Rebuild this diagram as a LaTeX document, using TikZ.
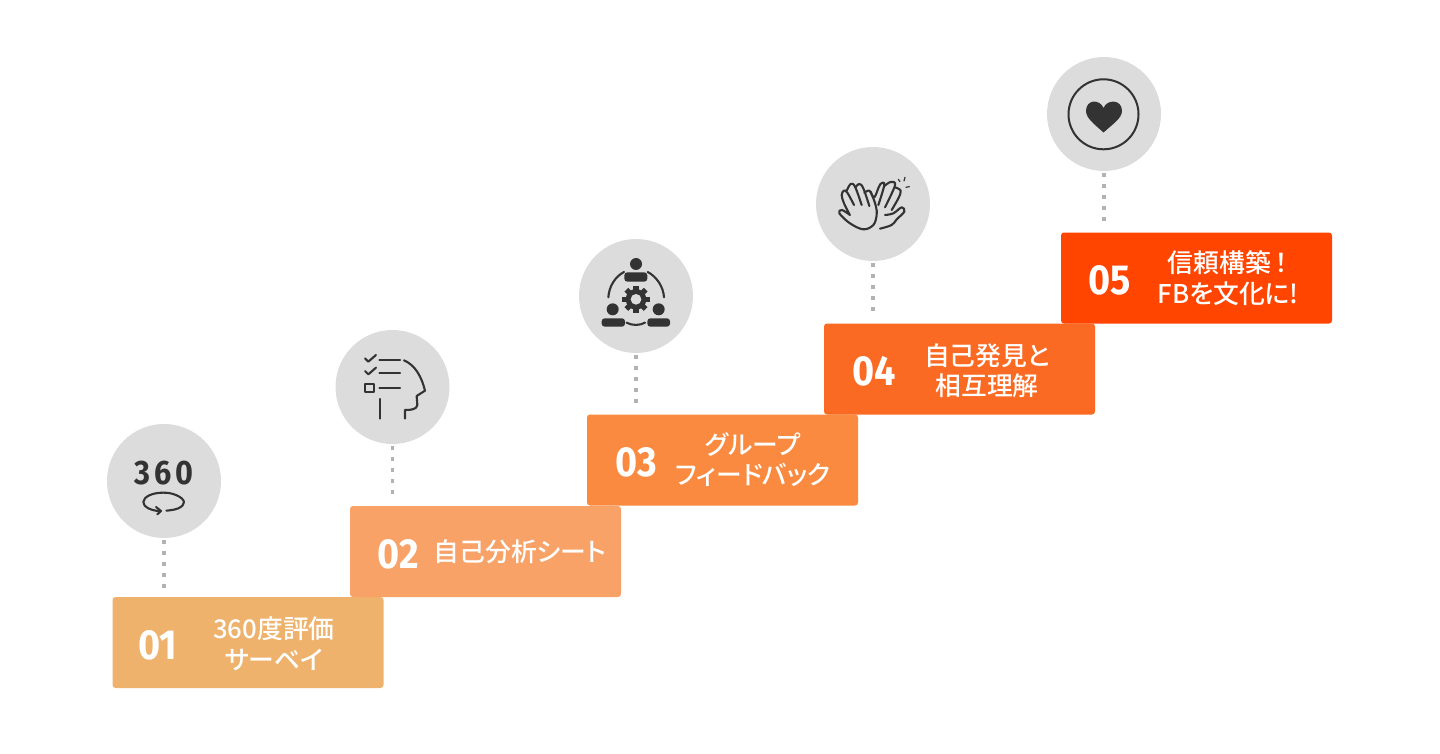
\documentclass[tikz,border=0pt]{standalone}
\usepackage{fontspec}
\setmainfont{Noto Sans CJK JP}[RawFeature=+palt,UprightFont=* Medium]
\newfontfamily\numfont{Fira Sans}[UprightFont=* Bold,FakeStretch=0.9]
\definecolor{step1}{HTML}{EFB26C}
\definecolor{step2}{HTML}{F8A267}
\definecolor{step3}{HTML}{F98A3F}
\definecolor{step4}{HTML}{FB6A22}
\definecolor{step5}{HTML}{FF4500}
\definecolor{disc}{HTML}{DCDCDC}
\definecolor{ink}{HTML}{333333}
\begin{document}
\begin{tikzpicture}[x=1pt,y=-1pt,
    stepbox/.style={shape=rectangle,rounded corners=3pt,minimum width=271pt,minimum height=91pt,inner sep=0pt},
    icondisc/.style={shape=circle,fill=disc,minimum size=114pt,inner sep=0pt},
    stepnum/.style={text=white,font=\numfont\fontsize{42}{42}\selectfont,inner sep=0pt},
    steptext/.style={text=white,font=\fontsize{25.8}{30.5}\selectfont,align=center,inner sep=0pt},
    stem/.style={draw=black!30,line width=3.2pt,dash pattern=on 4pt off 7pt},
    iconline/.style={draw=ink,line width=2.1pt,line cap=round,line join=round}]
    \useasboundingbox (0,0) rectangle (1440,754);

    % steps
    \node[stepbox,fill=step1] (B1) at (248,642.5) {};
    \node[stepbox,fill=step2] (B2) at (485.5,551.5) {};
    \node[stepbox,fill=step3] (B3) at (722.5,460) {};
    \node[stepbox,fill=step4] (B4) at (959.5,369) {};
    \node[stepbox,fill=step5] (B5) at (1196.5,278) {};

    \node[stepnum] (N1) at (158,645) {01};
    \node[stepnum] (N2) at (398,554) {02};
    \node[stepnum] (N3) at (636,462) {03};
    \node[stepnum] (N4) at (874,371) {04};
    \node[stepnum] (N5) at (1110,280) {05};

    \node[steptext] (T1) at (274,644) {360度評価\\サーベイ};
    \node[steptext] (T2) at (520,552) {自己分析シート};
    \node[steptext] (T3) at (753,459.5) {グループ\\フィードバック};
    \node[steptext] (T4) at (987,370.5) {自己発見と\\相互理解};
    \node[steptext] (T5) at (1228,278) {信頼構築\hspace{4pt}！\\FBを文化に!};

    % discs
    \node[icondisc] (C1) at (164,481) {};
    \node[icondisc] (C2) at (392.5,387) {};
    \node[icondisc] (C3) at (636,296) {};
    \node[icondisc] (C4) at (873,204) {};
    \node[icondisc] (C5) at (1104,114) {};

    % dotted stems
    \path [stem,shorten <=2pt,shorten >=9pt] (C1.south) edge (C1.south |- B1.north);
    \path [stem,shorten <=2pt,shorten >=10pt] (C2.south) edge (C2.south |- B2.north);
    \path [stem,shorten <=2pt,shorten >=10pt] (C3.south) edge (C3.south |- B3.north);
    \path [stem,shorten <=2pt,shorten >=12pt] (C4.south) edge (C4.south |- B4.north);
    \path [stem,shorten <=2pt,shorten >=10pt] (C5.south) edge (C5.south |- B5.north);

    % 360 icon
    \node[text=ink,font=\numfont\fontsize{34}{34}\selectfont,inner sep=0pt] (L1) at (164,473) {3\hspace{4pt}6\hspace{4pt}0};
    \begin{scope}[shift={(90,320)},scale=1/3]
        \draw[iconline] plot[smooth,tension=0.7] coordinates {(229,572) (265,565) (282,546) (260,526) (220,518) (178,526) (160,546) (175,565) (208,574)};
        \draw[iconline] (198,561) -- (213,573) -- (202,583);
    \end{scope}

    % head icon
    \begin{scope}[shift={(90,320)},scale=1/3]
        \draw[iconline] (825,115) -- (835,125) -- (858,105);
        \draw[iconline] (825,153) -- (835,163) -- (858,143);
        \draw[iconline] (826,191) rectangle (852,217);
        \draw[iconline] (868,120) -- (930,120);
        \draw[iconline] (868,158) -- (930,158);
        \draw[iconline] (868,205) -- (930,205);
        \draw[iconline] (870,237) -- (870,296);
        \draw[iconline] (942,121) .. controls (975,135) and (995,170) .. (1005,212) -- (980,228) -- (982,255) .. controls (980,268) and (965,270) .. (945,270) -- (945,296);
    \end{scope}

    % team icon
    \begin{scope}[shift={(560,140)},scale=1/3]
        \fill[ink] (228,372) circle (18);
        \fill[ink,rounded corners=3pt] (193,425) -- (193,397) -- (262,397) -- (262,425) -- cycle;
        \fill[ink] (158,508) circle (18);
        \fill[ink,rounded corners=3pt] (125,560) -- (125,535) -- (195,535) -- (195,560) -- cycle;
        \fill[ink] (296,508) circle (18);
        \fill[ink,rounded corners=3pt] (262,560) -- (262,535) -- (330,535) -- (330,560) -- cycle;
        \draw[iconline] (145,472) .. controls (147,440) and (165,410) .. (192,396);
        \draw[iconline] (263,396) .. controls (290,410) and (310,440) .. (312,472);
        \draw[iconline] (200,548) .. controls (215,557) and (240,557) .. (255,548);
        \foreach \a in {0,45,...,315}
            \fill[ink,rotate around={\a:(228,478)}] (220,437) rectangle (236,460);
        \fill[ink] (228,478) circle (31);
        \fill[disc] (228,478) circle (16);
    \end{scope}

    % hands icon
    \begin{scope}[shift={(830,170)},scale=1/3]
        \draw[iconline] plot[smooth,tension=0.6] coordinates {(58,132) (42,100) (35,75) (42,62) (52,68) (72,105)};
        \draw[iconline] plot[smooth,tension=0.6] coordinates {(50,62) (62,42) (75,50) (95,105)};
        \draw[iconline] plot[smooth,tension=0.6] coordinates {(76,52) (88,42) (100,55) (118,108)};
        \draw[iconline] plot[smooth,tension=0.6] coordinates {(103,68) (118,62) (128,80) (138,110) (140,135) (130,165) (100,178) (60,160) (28,130) (36,120) (60,135)};
        \draw[iconline] plot[smooth,tension=0.6] coordinates {(122,65) (133,82) (150,44) (163,44) (145,105)};
        \draw[iconline] plot[smooth,tension=0.6] coordinates {(163,48) (182,36) (195,46) (165,112)};
        \draw[iconline] plot[smooth,tension=0.6] coordinates {(195,52) (212,62) (205,85) (185,120)};
        \draw[iconline] plot[smooth,tension=0.6] coordinates {(165,135) (190,130) (215,112) (223,125) (200,148) (185,165) (150,176)};
        \draw[iconline,line width=1.2pt] (205,28) -- (210,35);
        \draw[iconline,line width=1.2pt] (225,22) -- (222,33);
        \draw[iconline,line width=1.2pt] (238,50) -- (228,52);
    \end{scope}

    % heart icon
    \draw[iconline,line width=2pt] (C5) ++(-0.5,0.3) circle (35);
    \fill[ink] (1103.5,132.5) .. controls (1094,124) and (1086,118) .. (1086,111) .. controls (1086,99) and (1100,99) .. (1103.5,108) .. controls (1107,99) and (1122,99) .. (1122,111) .. controls (1122,118) and (1113,124) .. (1103.5,132.5) -- cycle;
\end{tikzpicture}
\end{document}
